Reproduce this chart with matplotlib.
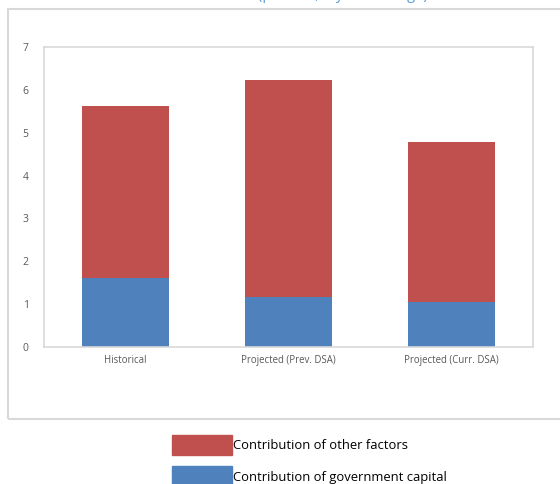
import matplotlib
matplotlib.use("Agg")
import matplotlib.pyplot as plt
from matplotlib.patches import Rectangle, Patch
import numpy as np

categories = ["Historical", "Projected (Prev. DSA)", "Projected (Curr. DSA)"]
gov_capital = [1.62, 1.17, 1.05]
other_factors = [4.00, 5.06, 3.73]

RED = "#C0504D"
BLUE = "#4F81BD"
GRID = "#D9D9D9"
TXT = "#595959"

W, H = 560, 484
fig = plt.figure(figsize=(W / 100, H / 100), dpi=100)

# outer chart frame (open on the right, cropped)
fig.add_artist(Rectangle((8 / W, 1 - 419 / H), 1.2, (419 - 8.5) / H,
                         transform=fig.transFigure, fill=False,
                         edgecolor=GRID, lw=1.5))

# cropped title fragment at the very top
fig.text(258 / W, 1 + 1 / H, "(percent, 5-year average)", color="#5B9BD5",
         fontsize=10.5, va="baseline", ha="left", family="Open Sans")

ax = fig.add_axes([44 / W, 1 - 347 / H, (533 - 44) / W, (347 - 47) / H])
x = np.arange(len(categories))
ax.bar(x, gov_capital, width=0.53, color=BLUE, label="Contribution of government capital")
ax.bar(x, other_factors, width=0.53, bottom=gov_capital, color=RED,
       label="Contribution of other factors")

ax.set_xlim(-0.5, len(categories) - 0.5)
ax.set_ylim(0, 7)
ax.set_yticks(range(8))
ax.set_xticks(x)
ax.set_xticklabels(categories, fontsize=6.9, color=TXT, family="Open Sans")
for lab in ax.get_yticklabels():
    lab.set_fontsize(7.5)
    lab.set_color(TXT)
    lab.set_family("Open Sans")
ax.tick_params(length=0)
ax.tick_params(axis="y", pad=11)
ax.tick_params(axis="x", pad=6)
for s in ax.spines.values():
    s.set_color(GRID)
    s.set_linewidth(1.2)

handles = [Patch(color=RED), Patch(color=BLUE)]
labels = ["Contribution of other factors", "Contribution of government capital"]
fig.legend(handles, labels, loc="upper left", bbox_to_anchor=(167 / W, 1 - 430 / H),
           frameon=False, handlelength=4.6, handleheight=2.0,
           handletextpad=0.05, labelspacing=0.85, borderaxespad=0,
           prop={"family": "Open Sans", "size": 9.4})

fig.savefig("out.png", dpi=100)
